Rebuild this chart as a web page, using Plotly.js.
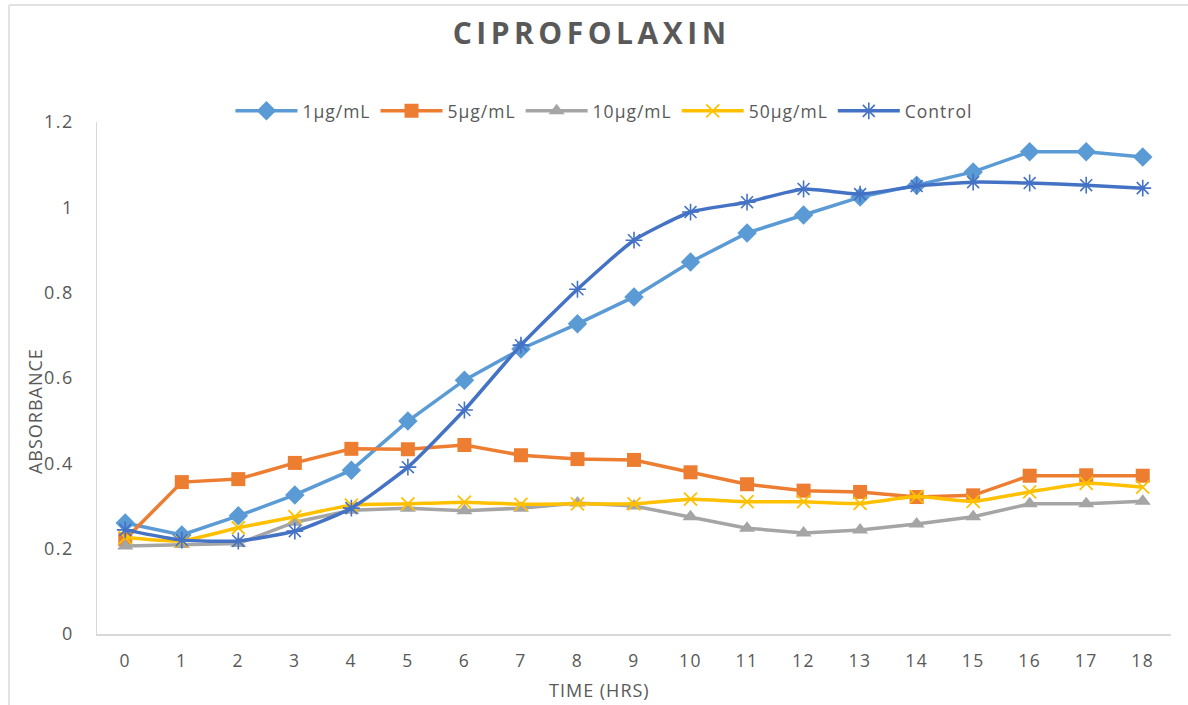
<!DOCTYPE html>
<html>
<head>
<meta charset="utf-8">
<script src="https://cdn.plot.ly/plotly-3.0.1.min.js"></script>
<style>
  html, body { margin: 0; padding: 0; background: #ffffff; }
  #chart { width: 1188px; height: 705px; }
  .gtitle { letter-spacing: 4.5px; }
  .legendtext { letter-spacing: 1px; }
  .xtick text { letter-spacing: 1.5px; }
  .ytick text { letter-spacing: 1.5px; }
  .annotation-text { letter-spacing: 1px; }
</style>
</head>
<body>
<div id="chart"></div>
<script>
const hours = [0,1,2,3,4,5,6,7,8,9,10,11,12,13,14,15,16,17,18];
const tickLabels = ["0","1","2","3","4","5","6","7","8","9","10","11","12","13","14","15","16","17","18"];
const s1 = [0.260,0.232,0.277,0.326,0.384,0.499,0.595,0.668,0.727,0.790,0.872,0.940,0.982,1.024,1.052,1.083,1.130,1.130,1.118];
const s5 = [0.222,0.356,0.363,0.401,0.434,0.433,0.443,0.419,0.410,0.408,0.379,0.351,0.336,0.333,0.321,0.325,0.371,0.372,0.371];
const s10 = [0.206,0.210,0.212,0.262,0.290,0.295,0.289,0.295,0.307,0.300,0.275,0.248,0.237,0.244,0.258,0.275,0.305,0.305,0.311];
const s50 = [0.226,0.218,0.249,0.275,0.302,0.305,0.309,0.304,0.305,0.305,0.316,0.310,0.310,0.306,0.322,0.311,0.333,0.353,0.344];
const control = [0.244,0.220,0.218,0.241,0.295,0.391,0.525,0.677,0.808,0.923,0.989,1.012,1.043,1.031,1.050,1.059,1.057,1.052,1.045];
const seriesNames = ["1µg/mL","5µg/mL","10µg/mL","50µg/mL","Control"];

const FONT = "'Open Sans', sans-serif";

const traces = [
  {x: hours, y: s1, name: seriesNames[0], mode: 'lines+markers',
   line: {color: '#5B9BD5', width: 3.5},
   marker: {symbol: 'diamond', size: 15, color: '#5B9BD5'}},
  {x: hours, y: s5, name: seriesNames[1], mode: 'lines+markers',
   line: {color: '#ED7D31', width: 3.5},
   marker: {symbol: 'square', size: 14, color: '#ED7D31'}},
  {x: hours, y: s10, name: seriesNames[2], mode: 'lines+markers',
   line: {color: '#A5A5A5', width: 3.5},
   marker: {symbol: 'triangle-up', size: 14, color: '#A5A5A5'}},
  {x: hours, y: s50, name: seriesNames[3], mode: 'lines+markers',
   line: {color: '#FFC000', width: 3.5, shape: 'spline', smoothing: 0.5},
   marker: {symbol: 'x-thin-open', size: 13, color: '#FFC000', line: {color: '#FFC000', width: 1.8}}},
  {x: hours, y: control, name: seriesNames[4], mode: 'lines+markers',
   line: {color: '#4472C4', width: 3.5, shape: 'spline', smoothing: 0.5},
   marker: {symbol: 'asterisk-open', size: 14, color: '#4472C4', line: {color: '#4472C4', width: 1.6}}}
];

const layout = {
  width: 1188, height: 705,
  margin: {l: 97, r: 17, t: 122, b: 71},
  paper_bgcolor: '#ffffff', plot_bgcolor: '#ffffff',
  font: {family: FONT, size: 18, color: '#595959'},
  title: {text: '<b>CIPROFOLAXIN</b>', x: 0.498, xanchor: 'center', y: 0.952, yanchor: 'middle',
          font: {family: FONT, size: 30, color: '#595959'}},
  showlegend: true,
  legend: {orientation: 'h', x: 0.472, xanchor: 'center', y: 1.0215, yanchor: 'middle',
           font: {family: FONT, size: 17.5, color: '#595959'}, itemwidth: 62, bgcolor: 'rgba(0,0,0,0)'},
  xaxis: {
    type: 'linear', range: [-0.5, 18.5], tickmode: 'array', tickvals: hours, ticktext: tickLabels,
    showgrid: false, zeroline: false, showline: true, linecolor: '#D9D9D9', linewidth: 1.5,
    ticks: '', ticklabelstandoff: 10, tickfont: {family: FONT, size: 17.5, color: '#595959'}
  },
  yaxis: {
    range: [0, 1.2], tickvals: [0,0.2,0.4,0.6,0.8,1,1.2], ticktext: ['0','0.2','0.4','0.6','0.8','1','1.2'],
    showgrid: false, zeroline: false, showline: true, linecolor: '#D9D9D9', linewidth: 1.5,
    ticks: '', ticklabelstandoff: 18, tickfont: {family: FONT, size: 18, color: '#595959'}
  },
  annotations: [
    {text: 'TIME (HRS)', xref: 'paper', yref: 'paper', x: 0.468, y: -0.1094, xanchor: 'center', yanchor: 'middle',
     showarrow: false, font: {family: FONT, size: 18, color: '#595959'}},
    {text: 'ABSORBANCE', xref: 'paper', yref: 'paper', x: -0.0577, y: 0.4355, xanchor: 'center', yanchor: 'middle',
     textangle: -90, showarrow: false, font: {family: FONT, size: 18, color: '#595959'}}
  ],
  shapes: [
    {type: 'line', xref: 'paper', yref: 'paper', x0: -0.0819, x1: -0.0819, y0: 1.2285, y1: -0.2, line: {color: '#D9D9D9', width: 1.5}},
    {type: 'line', xref: 'paper', yref: 'paper', x0: -0.0819, x1: 1.02, y0: 1.2285, y1: 1.2285, line: {color: '#D9D9D9', width: 1.5}}
  ]
};

Plotly.newPlot('chart', traces, layout, {displayModeBar: false, staticPlot: true});
</script>
</body>
</html>
